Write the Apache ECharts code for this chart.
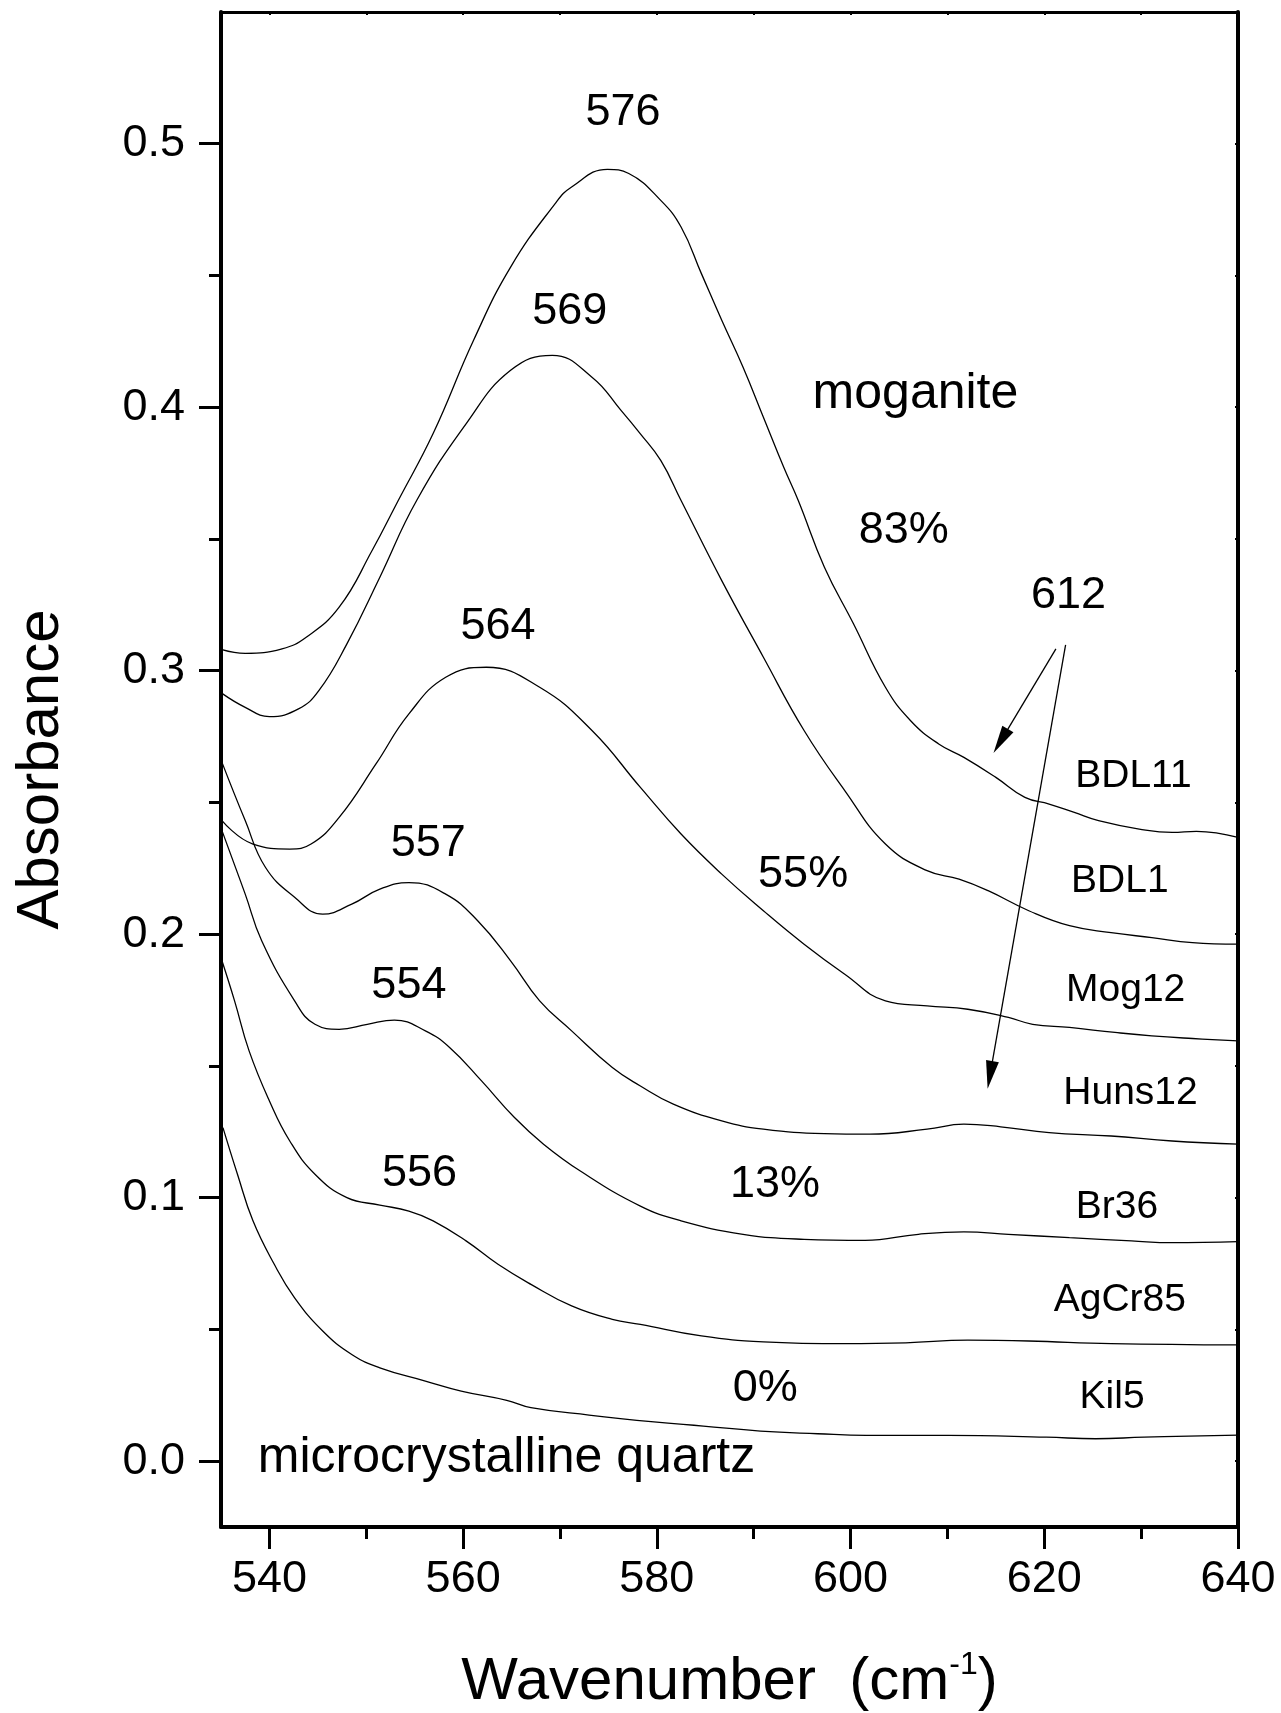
<!DOCTYPE html>
<html>
<head>
<meta charset="utf-8">
<script src="https://cdn.jsdelivr.net/npm/echarts@6/dist/echarts.min.js"></script>
<style>
html,body{margin:0;padding:0;background:#ffffff;}
#c{width:1281px;height:1713px;}
</style>
</head>
<body>
<div id="c"></div>
<script>
const FONT = "'Liberation Sans', Arial, Helvetica, sans-serif";

// ---------------- data (wavenumber cm-1, absorbance) ----------------
const xBDL11 = [535.1,537.5,541.3,543.8,547.2,550.6,553.3,556.9,561.1,564.9,569.5,571.2,574.9,577.1,580.4,582.5,584.6,586.7,588.9,591.0,593.1,594.6,597.3,600.3,603.6,606.2,609.1,611.7,615.0,618.0,620.5,623.1,625.6,629.8,633.2,635.7,640.0];
const yBDL11 = [0.3080,0.3066,0.3083,0.3127,0.3241,0.3456,0.3646,0.3900,0.4256,0.4532,0.4773,0.4836,0.4903,0.4887,0.4785,0.4684,0.4507,0.4330,0.4152,0.3962,0.3772,0.3646,0.3393,0.3178,0.2937,0.2810,0.2722,0.2671,0.2595,0.2519,0.2494,0.2462,0.2431,0.2399,0.2386,0.2390,0.2367];

const xBDL1 = [535.1,537.5,540.0,543.0,545.1,548.0,551.4,555.2,560.3,564.9,569.2,573.3,576.3,578.3,580.4,582.5,586.7,591.0,595.2,599.4,603.6,607.9,611.2,614.2,618.4,622.6,626.9,631.1,635.3,640.0];
const yBDL1 = [0.2914,0.2861,0.2826,0.2855,0.2924,0.3102,0.3355,0.3646,0.3937,0.4140,0.4197,0.4114,0.3988,0.3899,0.3798,0.3646,0.3342,0.3051,0.2773,0.2545,0.2342,0.2241,0.2209,0.2165,0.2089,0.2032,0.2006,0.1987,0.1968,0.1962];

const xMog12 = [535.1,538.3,542.1,544.3,547.2,551.0,554.4,558.2,562.4,567.9,573.3,578.3,582.5,586.7,591.0,595.2,599.4,603.6,607.9,612.1,616.3,618.8,622.6,627.3,631.1,635.3,640.0];
const yMog12 = [0.2431,0.2342,0.2323,0.2342,0.2443,0.2646,0.2836,0.2975,0.3013,0.2937,0.2773,0.2557,0.2380,0.2228,0.2089,0.1962,0.1848,0.1747,0.1728,0.1715,0.1684,0.1658,0.1646,0.1627,0.1614,0.1604,0.1595];

const xHuns12 = [535.1,537.5,539.6,542.6,545.5,548.5,551.4,554.4,558.2,561.5,564.9,567.9,571.2,575.4,578.3,581.7,586.7,591.0,597.3,602.0,607.9,611.7,615.5,620.5,626.9,633.2,640.0];
const yHuns12 = [0.2652,0.2431,0.2253,0.2140,0.2076,0.2114,0.2171,0.2196,0.2152,0.2051,0.1899,0.1747,0.1633,0.1494,0.1424,0.1355,0.1291,0.1260,0.1243,0.1241,0.1260,0.1279,0.1269,0.1247,0.1234,0.1215,0.1203];

const xBr36 = [535.1,537.5,539.2,542.6,544.7,547.2,550.1,552.9,556.1,558.6,561.9,565.3,568.3,572.1,578.3,582.5,588.9,595.2,601.5,607.0,611.7,616.3,622.6,629.0,633.2,640.0];
const yBr36 = [0.2393,0.2152,0.1975,0.1747,0.1658,0.1639,0.1658,0.1674,0.1633,0.1570,0.1443,0.1304,0.1203,0.1101,0.0968,0.0912,0.0861,0.0842,0.0838,0.0861,0.0870,0.0861,0.0848,0.0836,0.0829,0.0833];

const xAgCr85 = [535.1,536.4,537.9,540.0,542.1,544.7,548.0,551.4,554.4,556.9,560.3,563.6,567.0,571.2,575.4,578.3,584.6,591.0,599.4,605.7,612.1,618.4,626.9,640.0];
const yAgCr85 = [0.1899,0.1747,0.1557,0.1367,0.1215,0.1089,0.1000,0.0972,0.0949,0.0912,0.0836,0.0747,0.0671,0.0589,0.0538,0.0519,0.0475,0.0453,0.0446,0.0449,0.0459,0.0456,0.0446,0.0441];

const xKil5 = [535.2,536.7,538.3,540.5,542.6,545.5,548.5,551.4,556.1,559.8,564.5,567.0,573.0,579.7,584.8,590.7,596.6,601.6,610.1,620.2,625.3,630.3,640.0];
const yKil5 = [0.1266,0.1089,0.0912,0.0747,0.0620,0.0494,0.0405,0.0354,0.0304,0.0266,0.0231,0.0203,0.0175,0.0149,0.0133,0.0114,0.0104,0.0098,0.0098,0.0091,0.0085,0.0091,0.0099];

const sampleNames = ['BDL11','BDL1','Mog12','Huns12','Br36','AgCr85','Kil5'];
const sampleX = [xBDL11,xBDL1,xMog12,xHuns12,xBr36,xAgCr85,xKil5];
const sampleY = [yBDL11,yBDL1,yMog12,yHuns12,yBr36,yAgCr85,yKil5];

// tick values / labels
const xMajorTicks = [540,560,580,600,620,640];
const xMinorTicks = [550,570,590,610,630];
const xTopTicks = [540,550,560,570,580,590,600,610,620,630];
const yMajorTicks = [0,0.1,0.2,0.3,0.4,0.5];
const yMinorTicks = [0.05,0.15,0.25,0.35,0.45];
const yRightTicks = [0,0.05,0.1,0.15,0.2,0.25,0.3,0.35,0.4,0.45,0.5];

// annotation texts with anchor in data coordinates
const annText = ['576','569','moganite','83%','612','564','557','55%','554','556','13%','0%','microcrystalline quartz',
                 'BDL11','BDL1','Mog12','Huns12','Br36','AgCr85','Kil5'];
const annX = [576.5,571.0,606.7,605.5,622.5,563.6,556.4,595.1,554.4,555.5,592.2,591.2,538.8,
              629.2,627.8,628.4,628.9,627.5,627.8,627.0];
const annY = [0.5118,0.4363,0.4048,0.3533,0.3284,0.3168,0.2343,0.2227,0.1804,0.1090,0.1049,0.0277,0.0012,
              0.2600,0.2202,0.1787,0.1397,0.0962,0.0609,0.0244];
const annKind = ['num','num','big','num','num','num','num','num','num','num','num','num','bigleft',
                 'lab','lab','lab','lab','lab','lab','lab'];

// arrows from the "612" label (end = centre of arrow head)
const arrowFrom = [[621.2,0.3083],[622.2,0.3098]];
const arrowTo   = [[615.5,0.2733],[614.4,0.1466]];

// ---------------- chart ----------------
const XMIN = 535, XMAX = 640, YMIN = -0.025, YMAX = 0.55;

const series = sampleNames.map((name, i) => ({
  name: name,
  type: 'line',
  xAxisIndex: 0,
  yAxisIndex: 0,
  data: sampleX[i].map((x, k) => [x, sampleY[i][k]]),
  showSymbol: false,
  symbol: 'none',
  smooth: 0.45,
  lineStyle: { color: '#000', width: 1.3 },
  silent: true,
  z: 3
}));

series[0].markLine = {
  silent: true,
  symbol: ['none', 'triangle'],
  symbolSize: [13, 28],
  label: { show: false },
  lineStyle: { color: '#000', width: 1.3, type: 'solid' },
  itemStyle: { color: '#000' },
  data: arrowFrom.map((p, i) => [{ coord: p }, { coord: arrowTo[i] }])
};

const blackLine = (w) => ({ show: true, onZero: false, lineStyle: { color: '#000', width: w } });

const option = {
  animation: false,
  backgroundColor: '#ffffff',
  grid: { left: 221, top: 12, right: 43, bottom: 186, containLabel: false, outerBoundsMode: 'none' },
  xAxis: [
    {
      type: 'value', position: 'bottom', min: XMIN, max: XMAX,
      axisLine: blackLine(4),
      axisTick: { show: true, inside: false, length: 22, lineStyle: { color: '#000', width: 3 }, customValues: xMajorTicks },
      axisLabel: { show: true, customValues: xMajorTicks, margin: 30, fontSize: 45, fontFamily: FONT, color: '#000' },
      splitLine: { show: false },
      name: '{a|Wavenumber  (cm}{s|-1}{a|)}',
      nameLocation: 'middle',
      nameGap: 122,
      nameTextStyle: {
        rich: {
          a: { fontSize: 60, fontFamily: FONT, color: '#000', lineHeight: 66 },
          s: { fontSize: 32, fontFamily: FONT, color: '#000', verticalAlign: 'top', lineHeight: 30 }
        }
      }
    },
    {
      type: 'value', position: 'bottom', min: XMIN, max: XMAX,
      axisLine: { show: false, onZero: false },
      axisTick: { show: true, inside: false, length: 12, lineStyle: { color: '#000', width: 3 }, customValues: xMinorTicks },
      axisLabel: { show: false },
      splitLine: { show: false }
    },
    {
      type: 'value', position: 'top', min: XMIN, max: XMAX,
      axisLine: blackLine(3),
      axisTick: { show: true, inside: true, length: 3, lineStyle: { color: '#000', width: 2 }, customValues: xTopTicks },
      axisLabel: { show: false },
      splitLine: { show: false }
    }
  ],
  yAxis: [
    {
      type: 'value', position: 'left', min: YMIN, max: YMAX,
      axisLine: blackLine(4),
      axisTick: { show: true, inside: false, length: 22, lineStyle: { color: '#000', width: 3 }, customValues: yMajorTicks },
      axisLabel: { show: true, customValues: yMajorTicks, margin: 36, fontSize: 45, fontFamily: FONT, color: '#000',
                   formatter: (v) => Number(v).toFixed(1) },
      splitLine: { show: false },
      name: 'Absorbance',
      nameLocation: 'middle',
      nameRotate: 90,
      nameGap: 150,
      nameTextStyle: { fontSize: 60, fontFamily: FONT, color: '#000' }
    },
    {
      type: 'value', position: 'left', min: YMIN, max: YMAX,
      axisLine: { show: false, onZero: false },
      axisTick: { show: true, inside: false, length: 12, lineStyle: { color: '#000', width: 3 }, customValues: yMinorTicks },
      axisLabel: { show: false },
      splitLine: { show: false }
    },
    {
      type: 'value', position: 'right', min: YMIN, max: YMAX,
      axisLine: blackLine(4),
      axisTick: { show: true, inside: true, length: 3, lineStyle: { color: '#000', width: 2 }, customValues: yRightTicks },
      axisLabel: { show: false },
      splitLine: { show: false }
    }
  ],
  series: series
};

const chart = echarts.init(document.getElementById('c'), null, { renderer: 'canvas' });
chart.setOption(option);

const styleByKind = {
  num:     { fontSize: 45, align: 'center' },
  big:     { fontSize: 50, align: 'center' },
  bigleft: { fontSize: 50, align: 'left' },
  lab:     { fontSize: 39, align: 'center' }
};
const graphics = annText.map((t, i) => {
  const p = chart.convertToPixel({ seriesIndex: 0 }, [annX[i], annY[i]]);
  const st = styleByKind[annKind[i]];
  return {
    type: 'text', x: p[0], y: p[1], z: 20, silent: true,
    style: { text: t, fontSize: st.fontSize, fontFamily: FONT, fill: '#000', align: st.align, verticalAlign: 'middle' }
  };
});
chart.setOption({ graphic: graphics });
</script>
</body>
</html>
